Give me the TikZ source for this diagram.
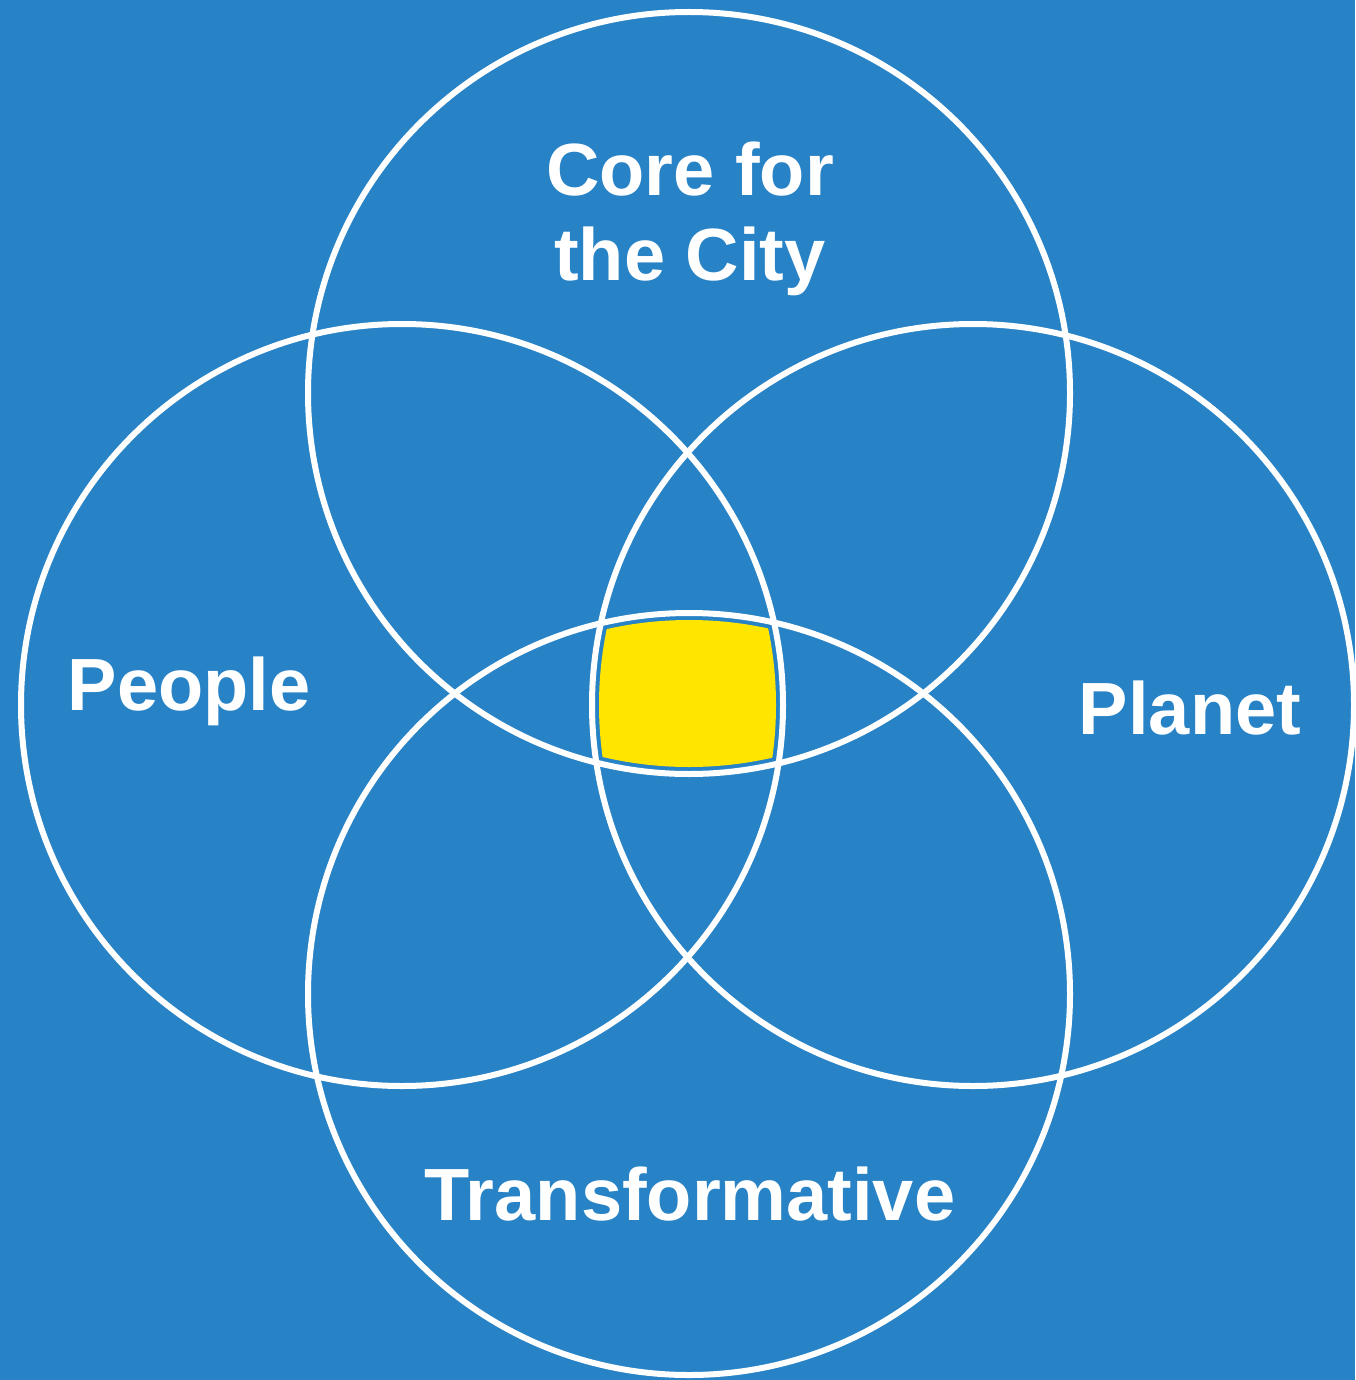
\documentclass[tikz,border=0pt]{standalone}
\usepackage{fontspec}
\setmainfont{Liberation Sans}
\usepackage{xcolor}

\definecolor{bgblue}{RGB}{40,131,198}
\definecolor{coreyellow}{RGB}{255,229,0}

\begin{document}
\begin{tikzpicture}[x=1pt,y=-1pt,
  ring/.style={circle,draw=white,line width=6pt,minimum size=762pt,inner sep=0pt},
  word/.style={text=white,font=\bfseries\fontsize{74}{85}\selectfont,inner sep=0pt,anchor=base,align=center}]


\fill[bgblue] (0,0) rectangle (1355,1380);
\useasboundingbox (0,0) rectangle (1355,1380);

% the shared middle
\begin{scope}
\clip (689,393) circle (374pt);
\clip (402,705) circle (374pt);
\clip (973,705) circle (374pt);
\clip (689,994) circle (374pt);
\fill[coreyellow] (550,560) rectangle (830,850);
\end{scope}

\node[ring] (city) at (689,393) {};
\node[ring] (people) at (402,705) {};
\node[ring] (planet) at (973,705) {};
\node[ring] (change) at (689,994) {};

\node[word] (citytext) at (690,280) {Core for\\the City};
\node[word] (peopletext) at (189,710) {People};
\node[word] (planettext) at (1190,734) {Planet};
\node[word] (changetext) at (690,1220) {Transformative};


\end{tikzpicture}
\end{document}
